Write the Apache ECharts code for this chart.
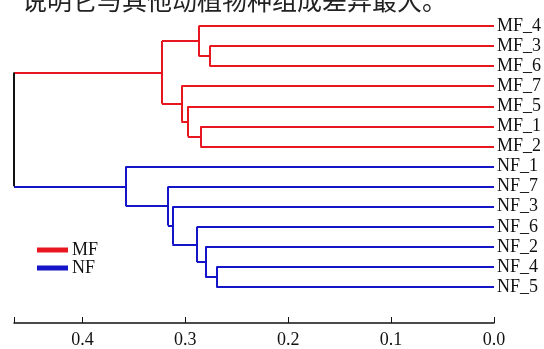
<!DOCTYPE html>
<html>
<head>
<meta charset="utf-8">
<script src="https://cdn.jsdelivr.net/npm/echarts@6/dist/echarts.min.js"></script>
<style>html,body{margin:0;padding:0;background:#fff;}#c{width:544px;height:349px;}</style>
</head>
<body>
<div id="c"></div>
<script>
// Leaves in display order (top to bottom)
const leaves = ['MF_4','MF_3','MF_6','MF_7','MF_5','MF_1','MF_2','NF_1','NF_7','NF_3','NF_6','NF_2','NF_4','NF_5'];
// Merges: [childA, childB, height]; node ids >= leaves.length refer to earlier merges
const mergeA = [1, 0, 5, 4, 3, 15, 12, 11, 10, 9, 8, 7, 19];
const mergeB = [2, 14, 6, 16, 17, 18, 13, 20, 21, 22, 23, 24, 25];
const mergeHeight = [0.2764, 0.2871, 0.2854, 0.2975, 0.3039, 0.3227, 0.2699, 0.2806, 0.2888, 0.3126, 0.3169, 0.3579, 0.4665];
const groups = ['MF', 'NF'];
const xTicks = [0, 0.1, 0.2, 0.3, 0.4];
const title = '说明它与其他动植物种组成差异最大。';

const colors = { MF: '#e8161e', NF: '#1414c8', root: '#111111' };
const n = leaves.length;
const nodeY = [], nodeH = [], nodeG = [];
leaves.forEach((l, i) => { nodeY[i] = i; nodeH[i] = 0; nodeG[i] = l.split('_')[0]; });
mergeA.forEach((a, k) => {
  const b = mergeB[k], id = n + k;
  nodeY[id] = (nodeY[a] + nodeY[b]) / 2;
  nodeH[id] = mergeHeight[k];
  nodeG[id] = nodeG[a] === nodeG[b] ? nodeG[a] : 'root';
});
const segs = { MF: [], NF: [], root: [] };
mergeA.forEach((a, k) => {
  const b = mergeB[k], id = n + k, h = mergeHeight[k];
  [a, b].forEach(c => {
    segs[nodeG[c]].push({ coords: [[nodeH[c], nodeY[c]], [h, nodeY[c]]] });
  });
  segs[nodeG[id]].push({ coords: [[h, nodeY[a]], [h, nodeY[b]]] });
});

const serif = 'Liberation Serif';
const chart = echarts.init(document.getElementById('c'), null, { renderer: 'canvas' });
const mk = (name) => ({
  name: name, type: 'lines', coordinateSystem: 'cartesian2d', z: name === 'root' ? 3 : 2,
  lineStyle: { color: colors[name], width: 2, opacity: 1 },
  itemStyle: { color: colors[name] },
  data: segs[name], silent: true
});
chart.setOption({
  animation: false,
  backgroundColor: '#fff',
  grid: { left: 14, right: 49, top: 26, bottom: 61 },
  legend: {
    data: groups, orient: 'vertical', left: 32, top: 236,
    icon: 'rect', itemWidth: 29, itemHeight: 3, itemGap: 0, itemTextGap: 4,
    textStyle: { fontFamily: serif, fontSize: 18, color: '#111' }
  },
  xAxis: {
    type: 'value', inverse: true, min: 0, max: mergeHeight[mergeHeight.length - 1], interval: 0.1,
    position: 'bottom', offset: 36,
    axisLine: { show: true, onZero: false, lineStyle: { color: '#111', width: 1.5 } },
    axisTick: { show: true, inside: true, length: 6, lineStyle: { color: '#111', width: 1 } },
    splitLine: { show: false },
    axisLabel: {
      margin: 8, fontFamily: serif, fontSize: 18, color: '#111',
      formatter: v => xTicks.some(t => Math.abs(t - v) < 1e-6) ? v.toFixed(1) : ''
    }
  },
  yAxis: {
    type: 'value', inverse: true, min: 0, max: n - 1, interval: 1, position: 'right',
    axisLine: { show: false }, axisTick: { show: false }, splitLine: { show: false },
    axisLabel: { margin: 3, fontFamily: serif, fontSize: 18, color: '#111', formatter: v => leaves[Math.round(v)] || '' }
  },
  graphic: [{
    type: 'text', left: 22, top: -12,
    style: { text: title, font: '25px "Noto Sans CJK SC"', fill: '#222' }
  }],
  series: [mk('MF'), mk('NF'), mk('root')]
});
</script>
</body>
</html>
